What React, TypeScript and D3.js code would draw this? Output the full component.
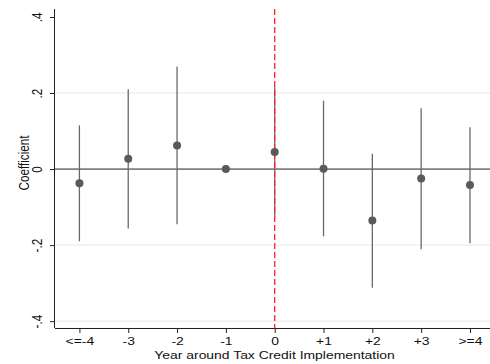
import * as d3 from "d3";
import { useEffect, useRef } from "react";

// event-study estimates
const categories = ["<=-4", "-3", "-2", "-1", "0", "+1", "+2", "+3", ">=4"];
const coef = [-0.037, 0.027, 0.062, 0, 0.045, 0.001, -0.135, -0.025, -0.042];
const ciLow = [-0.19, -0.156, -0.145, 0, -0.125, -0.177, -0.312, -0.211, -0.195];
const ciHigh = [0.115, 0.21, 0.27, 0, 0.216, 0.18, 0.04, 0.16, 0.11];
const yTicks = [-0.4, -0.2, 0, 0.2, 0.4];
const yTickLabels = ["-.4", "-.2", "0", ".2", ".4"];
const gridValues = [-0.4, -0.2, 0.2];

const W = 490;
const H = 364;
const margin = { top: 9, right: 0, bottom: 36, left: 55 };

// the original export is slightly stretched horizontally
const FS = 11.7;
const SX = 1.19;

const App = () => {
    const ref = useRef<SVGSVGElement>(null);

    useEffect(() => {
        const svg = d3.select(ref.current);
        svg.selectAll("*").remove();

        const x = d3.scaleLinear()
            .domain([-0.5, 8.41])
            .range([margin.left, W - margin.right]);
        const y = d3.scaleLinear()
            .domain([-0.418, 0.421])
            .range([H - margin.bottom, margin.top]);

        const font = "Liberation Sans, Arial, sans-serif";

        // background grid
        svg.append("g")
            .selectAll("line")
            .data(gridValues).enter()
            .append("line")
            .attr("x1", margin.left).attr("x2", W)
            .attr("y1", d => y(d)).attr("y2", d => y(d))
            .attr("stroke", "#e8e8e8")
            .attr("stroke-width", 1);

        // zero line
        svg.append("line")
            .attr("x1", margin.left).attr("x2", W)
            .attr("y1", y(0)).attr("y2", y(0))
            .attr("stroke", "#222")
            .attr("stroke-width", 1);

        // y axis
        const yAxis = d3.axisLeft(y)
            .tickValues(yTicks)
            .tickSize(5)
            .tickFormat((d, i) => yTickLabels[i]);
        const gy = svg.append("g")
            .attr("transform", `translate(${margin.left},0)`)
            .call(yAxis);
        gy.select(".domain").attr("d", `M-0.5,${margin.top}V${H - margin.bottom}`).attr("stroke", "#222");
        gy.selectAll(".tick line").attr("stroke", "#222");
        gy.selectAll(".tick text")
            .attr("font-family", font)
            .attr("font-size", FS)
            .attr("fill", "#111")
            .attr("x", 0).attr("dy", 0)
            .attr("transform", `translate(-13,0) scale(${SX},1) rotate(-90)`)
            .style("text-anchor", "middle");

        // x axis
        const xAxis = d3.axisBottom(x)
            .tickValues(d3.range(categories.length))
            .tickSize(5)
            .tickFormat((d) => categories[d as number]);
        const gx = svg.append("g")
            .attr("transform", `translate(0,${H - margin.bottom})`)
            .call(xAxis);
        gx.select(".domain").attr("d", `M${margin.left},0.5H${W}`).attr("stroke", "#222");
        gx.selectAll(".tick line").attr("stroke", "#222");
        gx.selectAll(".tick text")
            .attr("font-family", font)
            .attr("font-size", FS)
            .attr("fill", "#111")
            .attr("y", 0).attr("dy", 0)
            .attr("transform", `translate(0,17) scale(${SX},1)`);

        // axis titles
        svg.append("text")
            .attr("transform", `translate(${(margin.left + W) / 2 + 2},${H - 5}) scale(${SX},1)`)
            .attr("text-anchor", "middle")
            .attr("font-family", font)
            .attr("font-size", FS)
            .attr("fill", "#111")
            .text("Year around Tax Credit Implementation");
        svg.append("text")
            .attr("transform", `translate(29,163) scale(${SX},1) rotate(-90)`)
            .attr("text-anchor", "middle")
            .attr("font-family", font)
            .attr("font-size", FS)
            .attr("fill", "#111")
            .text("Coefficient");

        // confidence intervals
        svg.append("g")
            .selectAll("line")
            .data(categories).enter()
            .append("line")
            .attr("x1", (d, i) => x(i)).attr("x2", (d, i) => x(i))
            .attr("y1", (d, i) => y(ciLow[i])).attr("y2", (d, i) => y(ciHigh[i]))
            .attr("stroke", "#6a6a6a")
            .attr("stroke-width", 1.3);

        // treatment line
        svg.append("line")
            .attr("x1", x(4)).attr("x2", x(4))
            .attr("y1", margin.top).attr("y2", H - margin.bottom)
            .attr("stroke", "#ff2020")
            .attr("stroke-width", 1.3)
            .attr("stroke-dasharray", "6,3");

        // points
        svg.append("g")
            .selectAll("circle")
            .data(coef).enter()
            .append("circle")
            .attr("cx", (d, i) => x(i))
            .attr("cy", d => y(d))
            .attr("r", 4)
            .attr("fill", "#5a5a5a");
    }, []);

    return (
        <svg ref={ref} width={W} height={H}
            style={{ position: "absolute", left: 0, top: 0, background: "#fff" }}></svg>
    );
};

export default App;
